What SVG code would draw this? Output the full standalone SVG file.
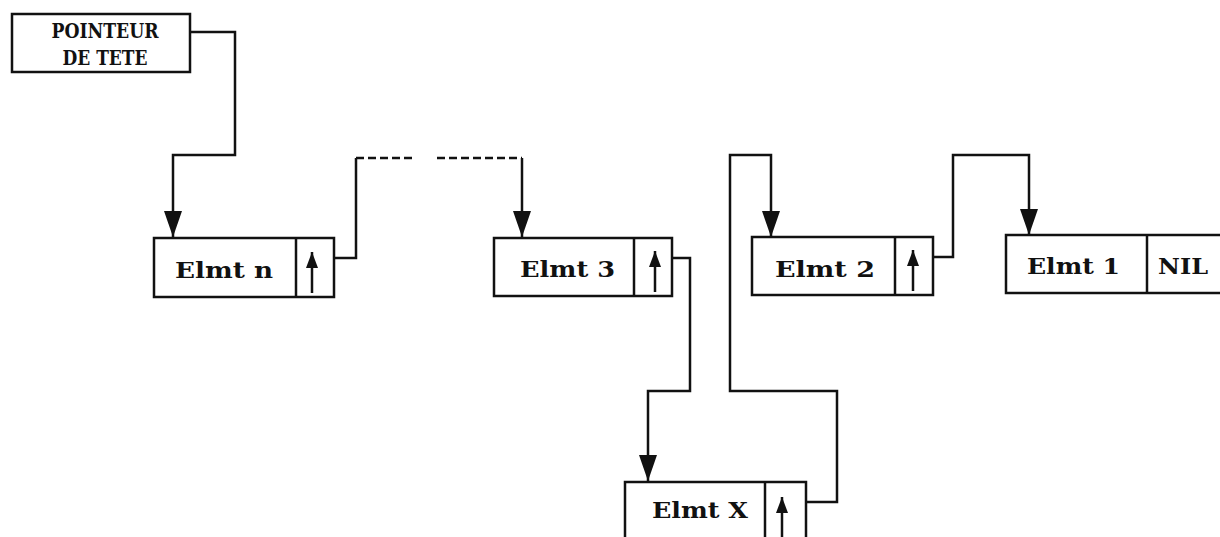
<svg xmlns="http://www.w3.org/2000/svg" width="1220" height="537" viewBox="0 0 1220 537">
<style>
.box{fill:#fff;stroke:#111;stroke-width:2.5}
.div{stroke:#111;stroke-width:2.5}
.lbl{font-family:"DejaVu Serif","Liberation Serif",serif;font-size:22px;font-weight:bold;fill:#111}
.hd{font-family:"DejaVu Serif","Liberation Serif",serif;font-size:20px;font-weight:bold;fill:#111}
.con{fill:none;stroke:#111;stroke-width:2.5}
.dash{stroke-dasharray:8 4}
.ptr{fill:none;stroke:#111;stroke-width:2.5}
</style>
<defs>
<marker id="ah" viewBox="0 0 26 18" refX="26" refY="9" markerWidth="26" markerHeight="18" markerUnits="userSpaceOnUse" orient="auto">
<path d="M0,0 L26,9 L0,18 Z" fill="#111"/>
</marker>
<marker id="up" viewBox="0 0 16 12" refX="16" refY="6" markerWidth="16" markerHeight="12" markerUnits="userSpaceOnUse" orient="auto">
<path d="M0,0 L16,6 L0,12 Z" fill="#111"/>
</marker>
</defs>
<rect width="1220" height="537" fill="#fff"/>
<g id="head">
<rect class="box" x="12" y="14" width="178" height="58"/>
<text class="hd" x="105" y="38" text-anchor="middle" textLength="107" lengthAdjust="spacingAndGlyphs">POINTEUR</text>
<text class="hd" x="105" y="65" text-anchor="middle" textLength="85" lengthAdjust="spacingAndGlyphs">DE TETE</text>
</g>
<g id="elmt-n">
<rect class="box" x="154" y="238" width="180" height="59"/>
<line class="div" x1="296" y1="238" x2="296" y2="297"/>
<text class="lbl" x="175" y="278" textLength="98" lengthAdjust="spacingAndGlyphs">Elmt n</text>
<path class="ptr" d="M312,293 V252" marker-end="url(#up)"/>
</g>
<g id="elmt-3">
<rect class="box" x="494" y="238" width="178" height="58"/>
<line class="div" x1="634" y1="238" x2="634" y2="296"/>
<text class="lbl" x="520" y="277" textLength="95" lengthAdjust="spacingAndGlyphs">Elmt 3</text>
<path class="ptr" d="M655,292 V251" marker-end="url(#up)"/>
</g>
<g id="elmt-2">
<rect class="box" x="752" y="237" width="181" height="58"/>
<line class="div" x1="895" y1="237" x2="895" y2="295"/>
<text class="lbl" x="775" y="277" textLength="100" lengthAdjust="spacingAndGlyphs">Elmt 2</text>
<path class="ptr" d="M913,291 V250" marker-end="url(#up)"/>
</g>
<g id="elmt-1">
<rect class="box" x="1006" y="235" width="230" height="58"/>
<line class="div" x1="1147" y1="235" x2="1147" y2="293"/>
<text class="lbl" x="1027" y="274" textLength="93" lengthAdjust="spacingAndGlyphs">Elmt 1</text>
<text class="lbl" x="1158" y="274" textLength="50" lengthAdjust="spacingAndGlyphs">NIL</text>
</g>
<g id="elmt-x">
<rect class="box" x="625" y="482" width="181" height="70"/>
<line class="div" x1="765" y1="482" x2="765" y2="552"/>
<text class="lbl" x="652" y="518" textLength="96" lengthAdjust="spacingAndGlyphs">Elmt X</text>
<path class="ptr" d="M782,537 V497" marker-end="url(#up)"/>
</g>
<g id="connectors">
<path class="con" d="M190,32 H235 V155 H173 V237" marker-end="url(#ah)"/>
<path class="con" d="M334,258 H356 V158"/>
<path class="con dash" d="M356,158 H413"/>
<path class="con dash" d="M437,158 H522"/>
<path class="con" d="M522,158 V237" marker-end="url(#ah)"/>
<path class="con" d="M672,258 H690 V391 H648 V481" marker-end="url(#ah)"/>
<path class="con" d="M806,502 H837 V391 H730 V155 H771 V237" marker-end="url(#ah)"/>
<path class="con" d="M933,257 H953 V155 H1029 V235" marker-end="url(#ah)"/>
</g>
</svg>
